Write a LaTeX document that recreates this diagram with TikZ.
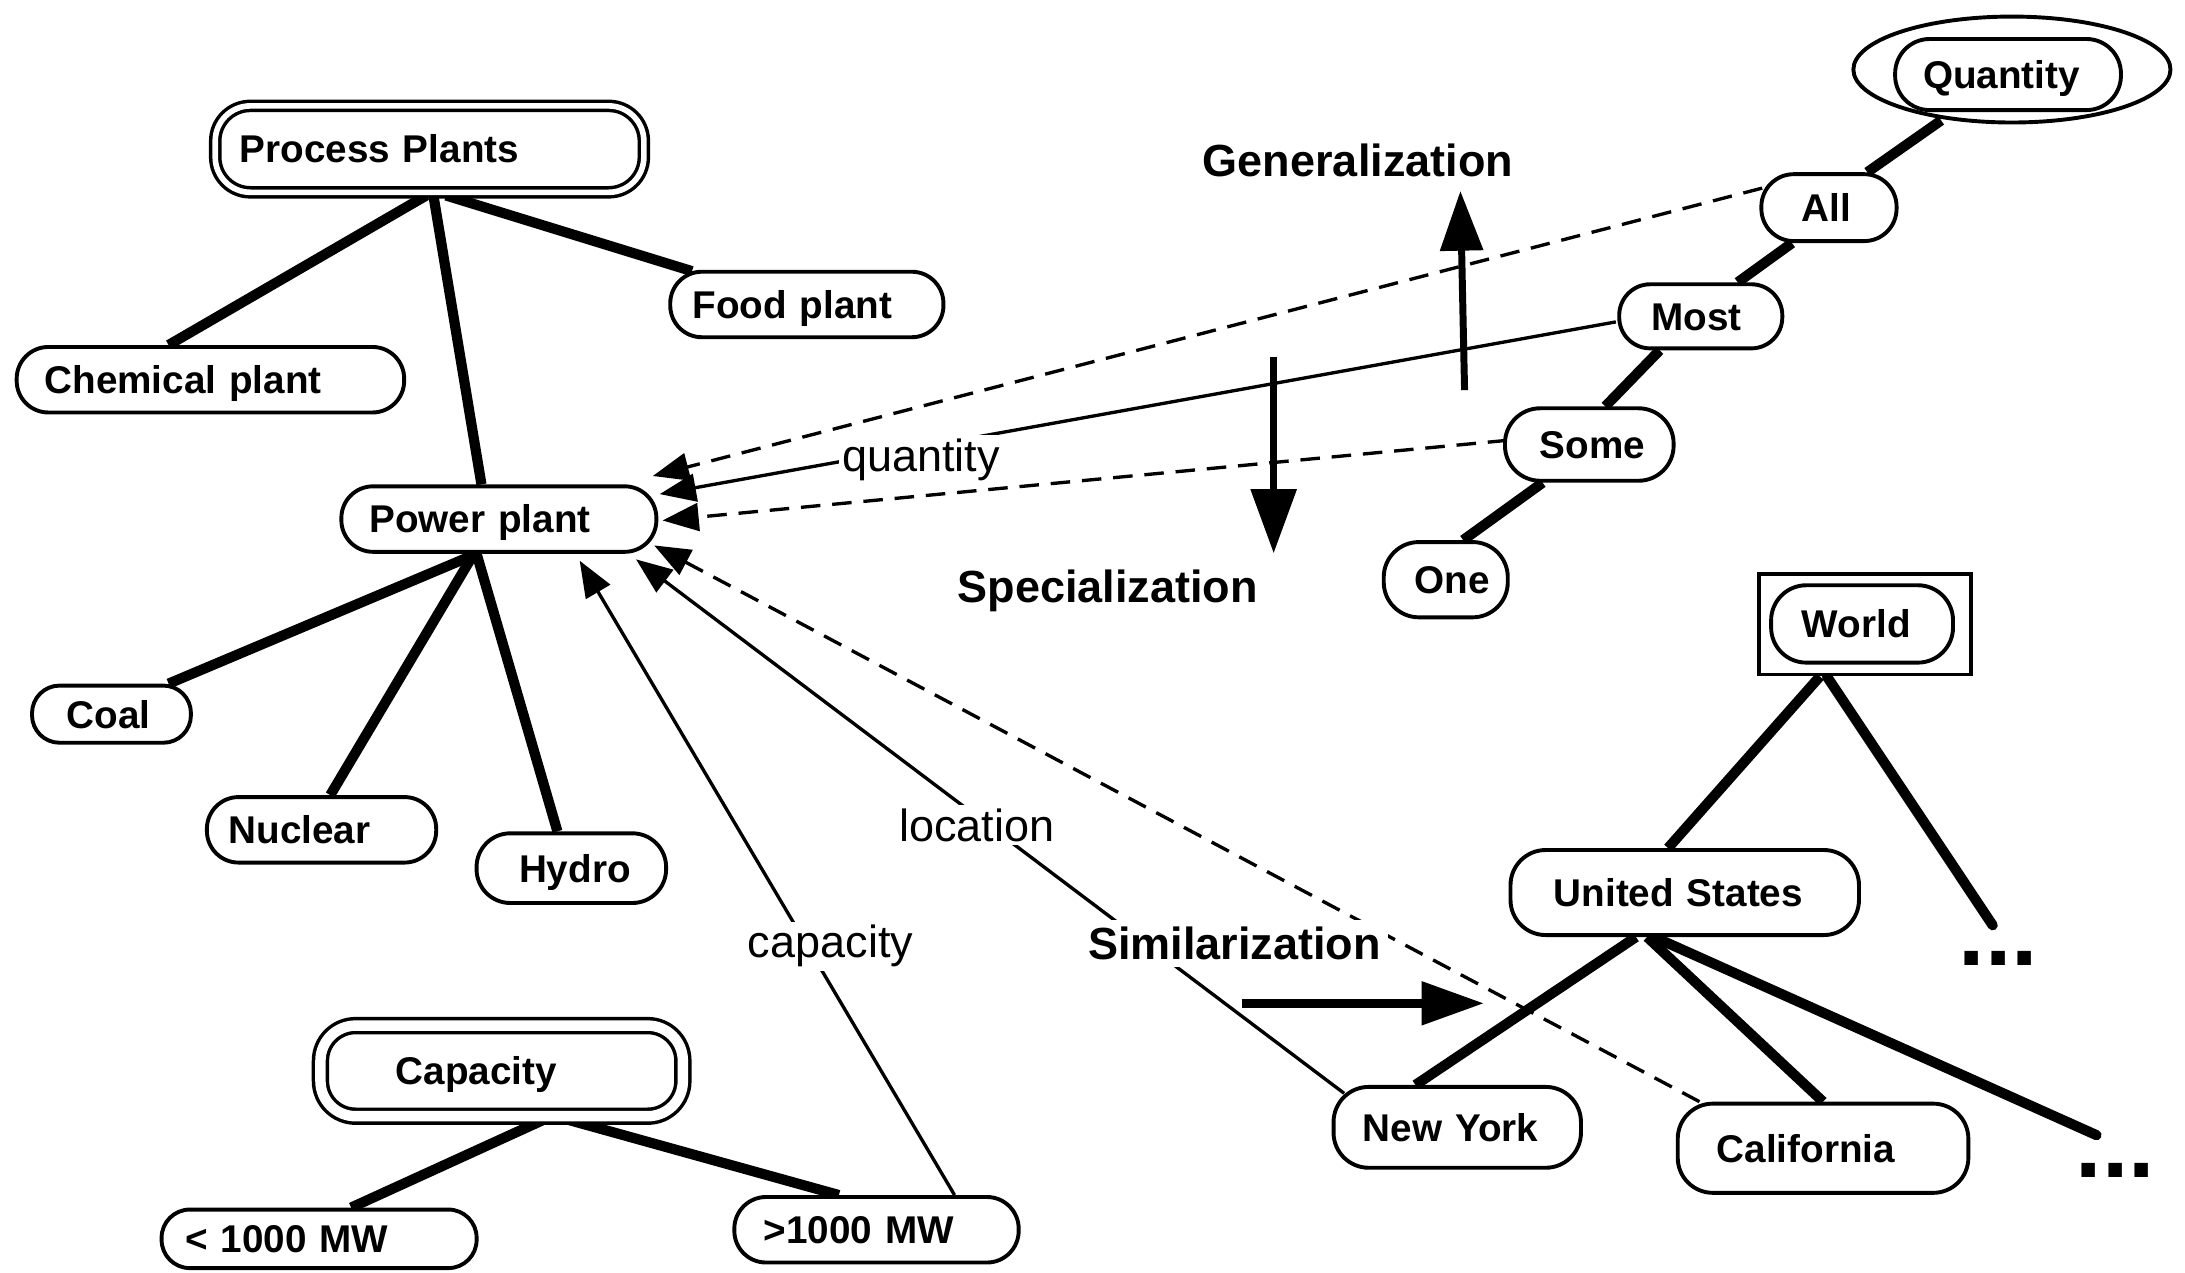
\documentclass[tikz,border=0pt]{standalone}
\usepackage{fontspec}
\setmainfont{Liberation Sans}
\usetikzlibrary{arrows.meta,shapes.geometric}
\pgfdeclarelayer{links}
\pgfsetlayers{links,main}

% one unit = one pixel of a 1568 x 913 canvas; 1 unit = 0.3965pt
\tikzset{
  pill/.style={draw, line width=1.11pt, fill=white,
    inner ysep=0pt, align=left, font=\bfseries\fontsize{11}{13}\selectfont,
    text height=7.9pt, text depth=0pt},
  twin/.style={double=white, double distance=1.6pt, line width=0.99pt},
  isa/.style={line width=2.9pt},
  rel/.style={line width=0.95pt, -{Triangle[length=10.3pt, width=7.9pt]}},
  dashrel/.style={rel, dash pattern=on 5.55pt off 3.37pt},
  lab/.style={fill=white, inner sep=1pt, font=\fontsize{12.8}{14}\selectfont},
  headline/.style={font=\bfseries\fontsize{12.8}{14}\selectfont},
  dots/.style={font=\bfseries\fontsize{27}{27}\selectfont, inner sep=0pt},
  bigarrow/.style={line width=1.98pt},
}

% \pillnode{options}{name}{x1}{x2}{y1}{y2}{text left}{text}
% corner radius is 10pt, or just under half the height for low boxes
\newcommand\pillnode[8]{%
  \pgfmathsetmacro\pillW{(#4-#3)*0.3965}%
  \pgfmathsetmacro\pillH{(#6-#5)*0.3965}%
  \pgfmathsetmacro\pillP{(#7-#3)*0.3965}%
  \pgfmathsetmacro\pillT{(#4-#3-2*(#7-#3))*0.3965}%
  \pgfmathsetmacro\pillR{min(10,\pillH/2-0.3)}%
  \node[pill,rounded corners=\pillR pt,#1,minimum width=\pillW pt,
        minimum height=\pillH pt, inner xsep=\pillP pt, text width=\pillT pt]
        (#2) at ({(#3+#4)/2},{(#5+#6)/2}) {\mbox{#8}};}

\begin{document}
\begin{tikzpicture}[x=0.013935cm, y=-0.013935cm]
\path[use as bounding box] (0,0) rectangle (1568,913);

% ---- process plant taxonomy
\pillnode{twin}{pp}{154.5}{462}{76}{138}{172}{Process Plants}
\pillnode{}{chem}{12}{290}{249}{296}{32}{Chemical plant}
\pillnode{}{food}{481}{677}{195}{242}{497}{Food plant}
\pillnode{}{pwr}{245}{471}{349}{396}{265}{Power plant}
\pillnode{}{coal}{23}{137}{492}{533}{48}{Coal}
\pillnode{}{nuc}{148.5}{313}{572}{619}{164}{Nuclear}
\pillnode{}{hyd}{342}{478}{598}{648}{372.5}{Hydro}

% ---- capacity scale
\pillnode{twin, double distance=2.97pt}{cap}{230}{490}{736}{801}{284}{Capacity}
\pillnode{}{lt}{116}{342}{868}{910}{133}{< 1000 MW}
\pillnode{}{gt}{527}{731}{859}{906}{548}{>1000 MW}

% ---- quantity scale
\node[draw, ellipse, line width=1.11pt, fill=white, inner sep=0pt,
      minimum width={227.5*0.3965pt}, minimum height={76*0.3965pt}]
      (qring) at (1443.8,49.9) {};
\pillnode{}{qty}{1360}{1522}{28}{79}{1380}{Quantity}
\pillnode{}{all}{1264}{1361}{125}{173}{1293}{All}
\pillnode{}{most}{1162}{1279}{204}{250}{1185}{Most}
\pillnode{}{some}{1080}{1201}{293}{345}{1105}{Some}
\pillnode{}{one}{993}{1082}{389}{443}{1015}{One}

% ---- location scale
\node[draw, line width=1.11pt, fill=white, inner sep=0pt,
      minimum width={152*0.3965pt}, minimum height={72*0.3965pt}]
      (wbox) at (1338.5,448) {};
\pillnode{}{world}{1271}{1401.5}{420}{475.5}{1293}{World}
\pillnode{}{us}{1084}{1334}{610}{671}{1115}{United States}
\pillnode{}{ny}{957}{1134.5}{780}{838}{978}{New York}
\pillnode{}{cal}{1204}{1412.5}{792}{856}{1232}{California}
\node[dots] (more1) at (1434,688) {...};
\node[dots] (more2) at (1518,840) {...};

% ---- hierarchy and relation links
\begin{pgfonlayer}{links}
\draw[isa] ([shift={(-2.25,1)}]pp.south) -- ([shift={(-30,0)}]chem.north);
\draw[isa] ([shift={(11.75,1)}]pp.south) -- ([shift={(-82.4,1)}]food.north);
\draw[isa] ([shift={(2.75,1)}]pp.south) -- ([shift={(-12.5,0)}]pwr.north);
\draw[isa] ([shift={(-16,0)}]pwr.south) -- ([shift={(41,0)}]coal.north);
\draw[isa] ([shift={(-18,0)}]pwr.south) -- ([shift={(6.25,0)}]nuc.north);
\draw[isa] ([shift={(-16,0)}]pwr.south) -- ([shift={(-10,0)}]hyd.north);
\draw[isa] ([shift={(33,0)}]cap.south) -- ([shift={(23,0)}]lt.north);
\draw[isa] ([shift={(43,0)}]cap.south) -- ([shift={(-27,0)}]gt.north);
\draw[isa] ([shift={(-50.8,-2.9)}]qring.south) -- ([shift={(27.5,0)}]all.north);
\draw[isa] ([shift={(-26.5,0)}]all.south) -- ([shift={(26.5,0)}]most.north);
\draw[isa] ([shift={(-29.5,0)}]most.south) -- ([shift={(11.5,0)}]some.north);
\draw[isa] ([shift={(-33.5,0)}]some.south) -- ([shift={(12.5,0)}]one.north);
\draw[isa] ([shift={(-32.5,0)}]wbox.south) -- ([shift={(-12,0)}]us.north);
\draw[isa, line cap=round] ([shift={(-27.5,0)}]wbox.south) -- ([shift={(-4,-24)}]more1.center);
\draw[isa] ([shift={(-35,0)}]us.south) -- ([shift={(-30,0)}]ny.north);
\draw[isa] ([shift={(-27,0)}]us.south) -- (cal.north);
\draw[isa, line cap=round] ([shift={(-22,0)}]us.south) -- ([shift={(-13.5,-25.4)}]more2.center);

\draw[dashrel] ([shift={(2,-14)}]all.west) -- ([shift={(-4,-6)}]pwr.north east);
\draw[rel] ([shift={(-1,4)}]most.west) -- ([shift={(1,7)}]pwr.north east);
\draw[dashrel] ([shift={(3,-3)}]some.west) -- ([shift={(3,1)}]pwr.east);
\draw[dashrel] ([shift={(17,0)}]cal.north west) -- ([shift={(-3,-6)}]pwr.south east);
\draw[rel] ([shift={(9,6)}]ny.north west) -- ([shift={(-16,4)}]pwr.south east);
\draw[rel] ([shift={(56,0)}]gt.north) -- ([shift={(58,5)}]pwr.south);
\end{pgfonlayer}

% ---- relation labels
\node[lab] (qlab) at (661,330) {quantity};
\node[lab] (loclab) at (701,592) {location};
\node[lab] (caplab) at (596,679) {capacity};

% ---- direction arrows and their captions
\node[headline] (gen) at (974.5,115) {Generalization};
\node[headline] (spec) at (795,424) {Specialization};
\node[headline, fill=white, inner sep=2pt] (sim) at (886,677) {Similarization};

\coordinate (g0) at (1051,280);
\coordinate (g1) at (1048,137);
\draw[bigarrow, -{Triangle[length=17pt, width=11.9pt]}] (g0) -- (g1);
\coordinate (s0) at (914,256);
\coordinate (s1) at (914,397);
\draw[bigarrow, -{Triangle[length=18.2pt, width=12.7pt]}] (s0) -- (s1);
\coordinate (m0) at (891,720);
\coordinate (m1) at (1065,720);
\draw[bigarrow, line width=2.58pt, -{Triangle[length=17.8pt, width=11.9pt]}] (m0) -- (m1);
\end{tikzpicture}
\end{document}
